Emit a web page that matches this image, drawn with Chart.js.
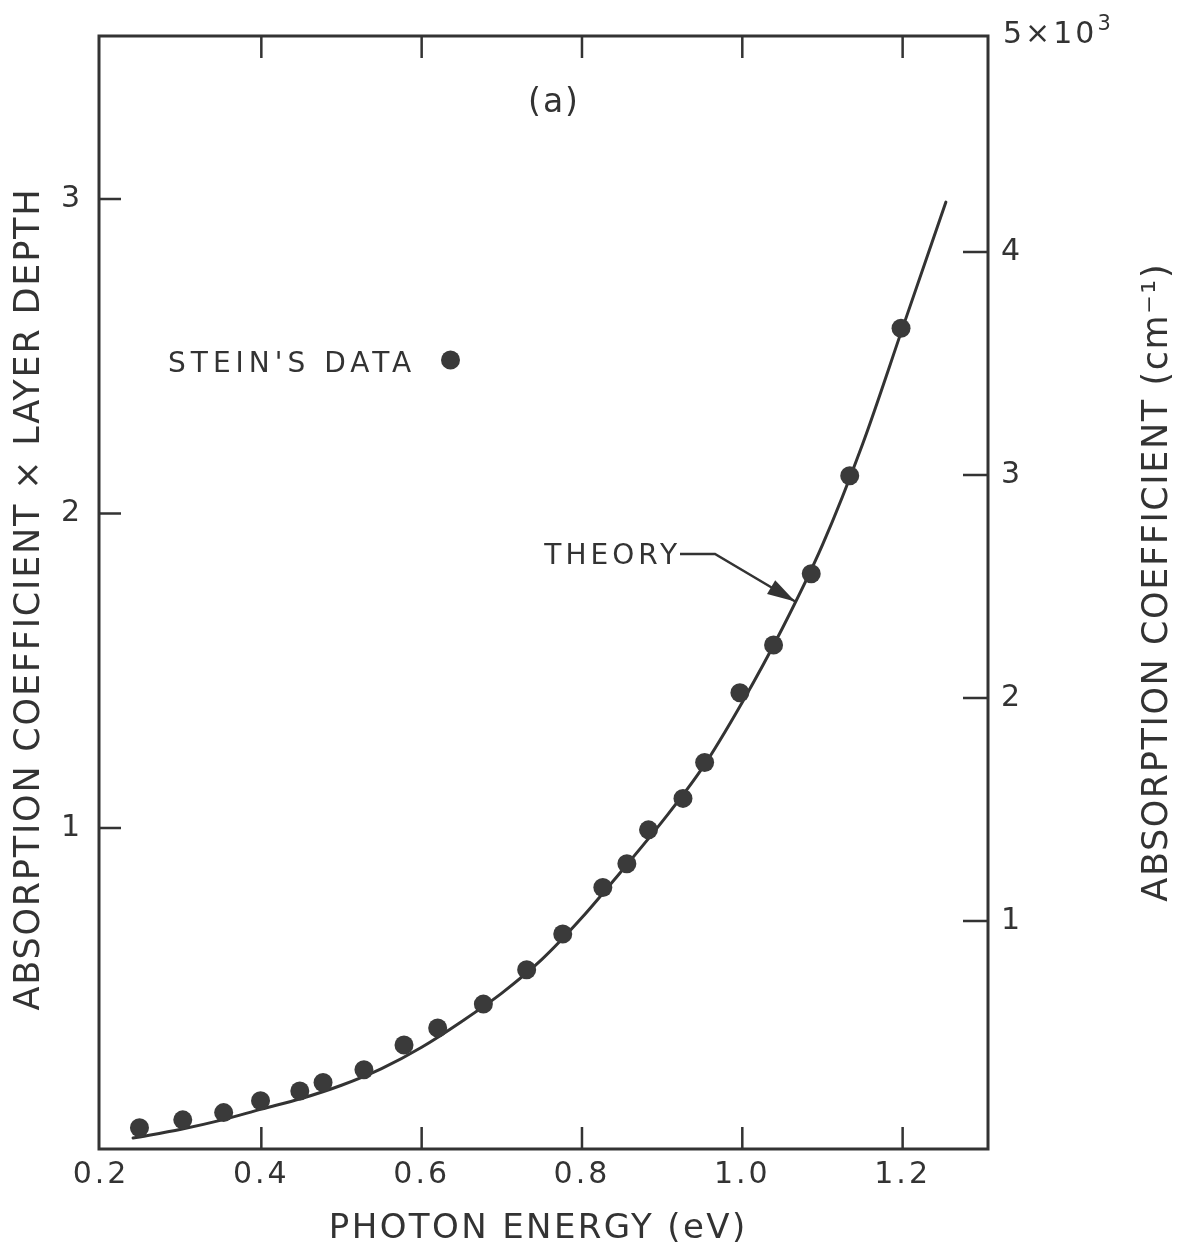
<!DOCTYPE html>
<html><head><meta charset="utf-8">
<script src="https://cdn.jsdelivr.net/npm/chart.js@4.4.0/dist/chart.umd.min.js"></script>
<style>html,body{margin:0;padding:0;background:#fff;}canvas{display:block;}</style>
</head><body>
<canvas id="c" width="1183" height="1245" style="width:1183px;height:1245px"></canvas>
<script>
// ---- data ----
const xTicks = [0.2, 0.4, 0.6, 0.8, 1.0, 1.2];
const yLeftTicks = [1, 2, 3];
const yRightTicks = [1000, 2000, 3000, 4000];

const steinX = [0.248, 0.302, 0.353, 0.399, 0.448, 0.477, 0.528, 0.578, 0.620, 0.677, 0.731,
                0.776, 0.826, 0.856, 0.883, 0.926, 0.953, 0.997, 1.039, 1.086, 1.134, 1.198];
const steinY = [0.047, 0.072, 0.095, 0.133, 0.164, 0.191, 0.231, 0.310, 0.364, 0.440, 0.549,
                0.663, 0.811, 0.886, 0.994, 1.094, 1.208, 1.430, 1.582, 1.808, 2.120, 2.589];

const theoryX = [0.24, 0.30, 0.35, 0.40, 0.45, 0.50, 0.55, 0.60, 0.65, 0.70, 0.75,
                 0.80, 0.85, 0.90, 0.95, 1.00, 1.05, 1.10, 1.15, 1.20, 1.254];
const theoryY = [0.014, 0.042, 0.071, 0.106, 0.140, 0.182, 0.235, 0.303, 0.385, 0.475, 0.582,
                 0.715, 0.865, 1.020, 1.190, 1.400, 1.635, 1.900, 2.220, 2.590, 2.990];

const xTitle = 'PHOTON ENERGY (eV)';
const yLeftTitle = 'ABSORPTION COEFFICIENT \u00D7 LAYER DEPTH';
const yRightTitle = 'ABSORPTION COEFFICIENT (cm\u207B\u00B9)';
const panelLabel = '(a)';
const legendLabel = "STEIN'S DATA";
const theoryLabel = 'THEORY';
const rightTopBase = '5\u00D710';
const rightTopExp = '3';

// ---- styling ----
const INK = '#333333';
const FONT = '"DejaVu Sans", "Noto Sans", sans-serif';

function txt(ctx, s, x, y, spacing) {
  ctx.letterSpacing = spacing + 'px';
  let dx = 0;
  if (ctx.textAlign === 'center') dx = spacing / 2;
  else if (ctx.textAlign === 'right') dx = spacing;
  ctx.fillText(s, x + dx, y);
  ctx.letterSpacing = '0px';
}

const framePlugin = {
  id: 'frame',
  beforeDraw(chart) {
    chart.ctx.letterSpacing = '3px';
  },
  afterDraw(chart) {
    const ctx = chart.ctx;
    const a = chart.chartArea;
    const sx = chart.scales.x, sl = chart.scales.y, sr = chart.scales.y2;
    ctx.save();
    ctx.strokeStyle = INK;
    ctx.fillStyle = INK;
    ctx.lineWidth = 3;
    ctx.lineJoin = 'miter';
    ctx.strokeRect(a.left, a.top, a.right - a.left, a.bottom - a.top);
    // inward ticks
    ctx.lineWidth = 2.5;
    ctx.beginPath();
    xTicks.forEach(v => {
      const px = sx.getPixelForValue(v);
      if (px - a.left < 5) return;
      ctx.moveTo(px, a.bottom); ctx.lineTo(px, a.bottom - 22);
      ctx.moveTo(px, a.top); ctx.lineTo(px, a.top + 22);
    });
    yLeftTicks.forEach(v => {
      const py = sl.getPixelForValue(v);
      ctx.moveTo(a.left, py); ctx.lineTo(a.left + 22, py);
    });
    yRightTicks.forEach(v => {
      const py = sr.getPixelForValue(v);
      ctx.moveTo(a.right, py); ctx.lineTo(a.right - 25, py);
    });
    ctx.stroke();

    // titles
    ctx.textAlign = 'center';
    ctx.textBaseline = 'alphabetic';
    ctx.font = '34px ' + FONT;
    txt(ctx, xTitle, 537, 1238, 2.4);

    ctx.save();
    ctx.translate(39, 600);
    ctx.rotate(-Math.PI / 2);
    ctx.font = '35px ' + FONT;
    txt(ctx, yLeftTitle, 0, 0, 1.8);
    ctx.restore();

    ctx.save();
    ctx.translate(1167, 583);
    ctx.rotate(-Math.PI / 2);
    ctx.font = '35px ' + FONT;
    txt(ctx, yRightTitle, 0, 0, 1.6);
    ctx.restore();

    // panel label
    ctx.font = '33px ' + FONT;
    ctx.textBaseline = 'middle';
    txt(ctx, panelLabel, 553, 103, 2);

    // 5x10^3
    ctx.textAlign = 'left';
    ctx.textBaseline = 'alphabetic';
    ctx.font = '30px ' + FONT;
    txt(ctx, rightTopBase, 1003, 43, 3);
    ctx.letterSpacing = '3px';
    const w = ctx.measureText(rightTopBase).width;
    ctx.letterSpacing = '0px';
    ctx.font = '21px ' + FONT;
    txt(ctx, rightTopExp, 1003 + w, 30, 0);

    // legend
    ctx.font = '28px ' + FONT;
    txt(ctx, legendLabel, 168, 372, 5);
    const lx = sx.getPixelForValue(0.636), ly = sl.getPixelForValue(2.488);
    ctx.fillStyle = '#3a3a3a';
    ctx.beginPath(); ctx.arc(lx, ly, 9.5, 0, Math.PI * 2); ctx.fill();

    // theory label + arrow
    ctx.fillStyle = INK;
    ctx.textAlign = 'right';
    ctx.font = '28px ' + FONT;
    txt(ctx, theoryLabel, 677, 564, 4);
    const tipX = sx.getPixelForValue(1.066), tipY = sl.getPixelForValue(1.72);
    ctx.lineWidth = 2.5;
    ctx.beginPath();
    ctx.moveTo(680, 554); ctx.lineTo(715, 554); ctx.lineTo(tipX, tipY);
    ctx.stroke();
    const ang = Math.atan2(tipY - 554, tipX - 715);
    const L = 28, W = 8;
    const bx = tipX - L * Math.cos(ang), by = tipY - L * Math.sin(ang);
    ctx.beginPath();
    ctx.moveTo(tipX, tipY);
    ctx.lineTo(bx + W * Math.sin(ang), by - W * Math.cos(ang));
    ctx.lineTo(bx - W * Math.sin(ang), by + W * Math.cos(ang));
    ctx.closePath();
    ctx.fill();
    ctx.restore();
    ctx.letterSpacing = '0px';
  }
};

const tickFont = { family: FONT, size: 30 };

new Chart(document.getElementById('c'), {
  type: 'scatter',
  data: {
    datasets: [
      {
        label: legendLabel,
        data: steinX.map((x, i) => ({ x, y: steinY[i] })),
        pointRadius: 9.5,
        pointBackgroundColor: '#3a3a3a',
        pointBorderWidth: 0,
        showLine: false,
        yAxisID: 'y'
      },
      {
        label: theoryLabel,
        data: theoryX.map((x, i) => ({ x, y: theoryY[i] })),
        showLine: true,
        borderColor: INK,
        borderWidth: 3,
        borderCapStyle: 'round',
        pointRadius: 0,
        cubicInterpolationMode: 'monotone',
        yAxisID: 'y'
      }
    ]
  },
  options: {
    responsive: false,
    animation: false,
    devicePixelRatio: 1,
    layout: { padding: { top: 36, left: 0, right: 0, bottom: 0 } },
    plugins: { legend: { display: false }, tooltip: { enabled: false } },
    scales: {
      x: {
        type: 'linear', position: 'bottom', min: 0.1975, max: 1.3065,
        afterBuildTicks: s => { s.ticks = xTicks.map(v => ({ value: v })); },
        afterFit: s => { s.height = 96; },
        grid: { display: false, drawTicks: false },
        border: { display: false },
        ticks: { font: tickFont, color: INK, padding: 8, maxRotation: 0, autoSkip: false,
                 callback: v => Number(v).toFixed(1) }
      },
      y: {
        type: 'linear', position: 'left', min: -0.0207, max: 3.518,
        afterBuildTicks: s => { s.ticks = yLeftTicks.map(v => ({ value: v })); },
        afterFit: s => { s.width = 99; },
        grid: { display: false, drawTicks: false },
        border: { display: false },
        ticks: { font: tickFont, color: INK, padding: 16, autoSkip: false,
                 callback: v => String(v) }
      },
      y2: {
        type: 'linear', position: 'right', min: -22.4, max: 4968.6,
        afterBuildTicks: s => { s.ticks = yRightTicks.map(v => ({ value: v })); },
        afterFit: s => { s.width = 195; },
        grid: { display: false, drawTicks: false },
        border: { display: false },
        ticks: { font: tickFont, color: INK, padding: 13, autoSkip: false,
                 callback: v => String(v / 1000) }
      }
    }
  },
  plugins: [framePlugin]
});
</script>
</body></html>
